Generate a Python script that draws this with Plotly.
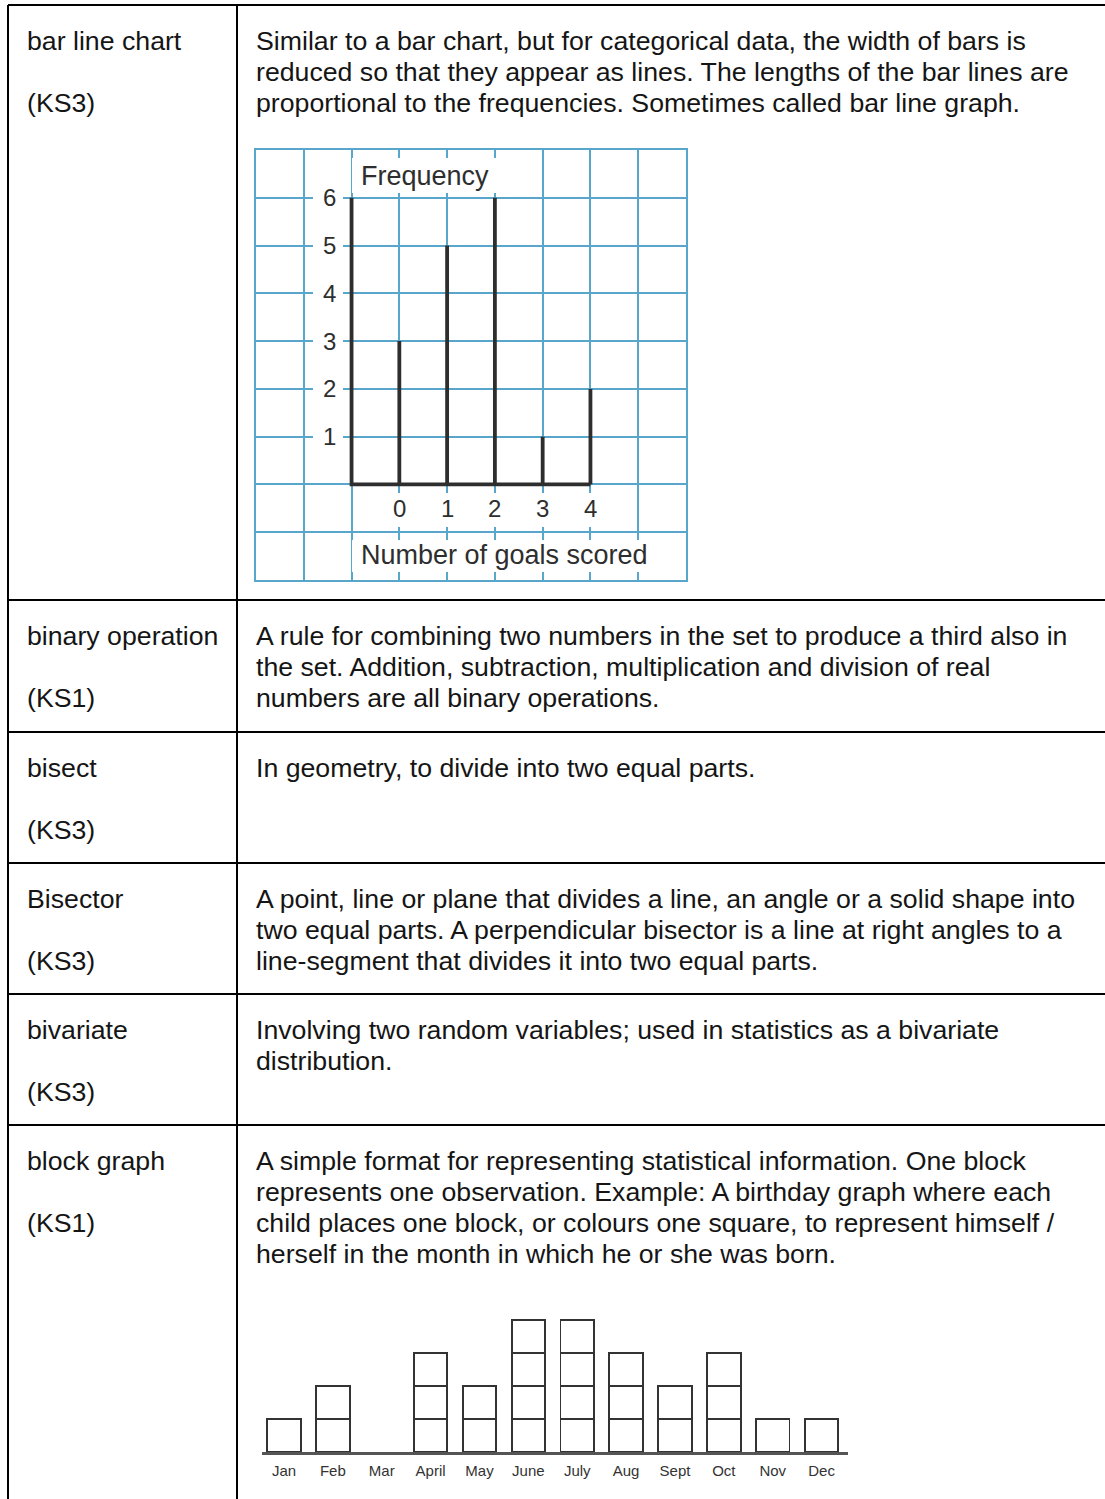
import plotly.graph_objects as go

W, H = 1105, 1499
FONT = "Liberation Sans, Arial, sans-serif"
TEXT_COLOR = "#151515"
GRID_BLUE = "#59a6cc"
INK = "#2e2e2e"

# table content
terms = ["bar line chart", "binary operation", "bisect", "Bisector", "bivariate", "block graph"]
stages = ["(KS3)", "(KS1)", "(KS3)", "(KS3)", "(KS3)", "(KS1)"]
definitions = [
    ["Similar to a bar chart, but for categorical data, the width of bars is",
     "reduced so that they appear as lines. The lengths of the bar lines are",
     "proportional to the frequencies. Sometimes called bar line graph."],
    ["A rule for combining two numbers in the set to produce a third also in",
     "the set. Addition, subtraction, multiplication and division of real",
     "numbers are all binary operations."],
    ["In geometry, to divide into two equal parts."],
    ["A point, line or plane that divides a line, an angle or a solid shape into",
     "two equal parts. A perpendicular bisector is a line at right angles to a",
     "line-segment that divides it into two equal parts."],
    ["Involving two random variables; used in statistics as a bivariate",
     "distribution."],
    ["A simple format for representing statistical information. One block",
     "represents one observation. Example: A birthday graph where each",
     "child places one block, or colours one square, to represent himself /",
     "herself in the month in which he or she was born."],
]
row_tops = [5, 600, 732, 863, 994, 1125]

# bar line chart data
goals = [0, 1, 2, 3, 4]
frequency = [3, 5, 6, 1, 2]
freq_ticks = [1, 2, 3, 4, 5, 6]

# block graph data
months = ["Jan", "Feb", "Mar", "April", "May", "June", "July", "Aug", "Sept", "Oct", "Nov", "Dec"]
birthdays = [1, 2, 0, 3, 2, 4, 4, 3, 2, 3, 1, 1]


def px(x):
    return x / W


def py(y):
    return 1 - y / H


fig = go.Figure()

# --- bar line chart ---
sx, sy = [], []
for g, f in zip(goals, frequency):
    sx += [g, g, None]
    sy += [0, f, None]
fig.add_trace(go.Scatter(x=sx, y=sy, mode="lines", line=dict(color=INK, width=3.8),
                         xaxis="x", yaxis="y", hoverinfo="skip"))
axis_x = goals[0] - 1
fig.add_trace(go.Scatter(x=[axis_x, axis_x, goals[-1]], y=[max(freq_ticks), 0, 0], mode="lines",
                         line=dict(color=INK, width=3.8), xaxis="x", yaxis="y", hoverinfo="skip"))

# white masks behind labels (hide grid)
cell = 430 / 9


def dx(p):
    return (p - 256) / cell - 3


def dy(p):
    return 7 - (p - 150) / cell


masks = [(dx(352), dx(541), dy(193), dy(158)),
         (dx(352), dx(685), dy(572), dy(540))]
for g in goals:
    masks.append((g - 0.2, g + 0.2, dy(527), dy(493)))
for t in freq_ticks:
    masks.append((dx(313), dx(343), t - 0.3, t + 0.3))
for x0, x1, y0, y1 in masks:
    fig.add_shape(type="rect", xref="x", yref="y", x0=x0, x1=x1, y0=y0, y1=y1,
                  fillcolor="white", line=dict(width=0), layer="between")

for t in freq_ticks:
    fig.add_annotation(x=dx(329), y=t, xref="x", yref="y", text=str(t), showarrow=False,
                       font=dict(family=FONT, size=24, color=INK))
for g in goals:
    fig.add_annotation(x=g, y=dy(508), xref="x", yref="y", text=str(g), showarrow=False,
                       font=dict(family=FONT, size=24, color=INK))
fig.add_annotation(x=dx(359), y=dy(176), xref="x", yref="y", text="Frequency", showarrow=False,
                   xanchor="left", font=dict(family=FONT, size=27, color=INK))
fig.add_annotation(x=dx(359), y=dy(555), xref="x", yref="y", text="Number of goals scored",
                   showarrow=False, xanchor="left", font=dict(family=FONT, size=27, color=INK))

# --- block graph ---
levels = max(birthdays)
for k in range(1, levels + 1):
    fig.add_trace(go.Bar(x=months, y=[1 if c >= k else None for c in birthdays], width=0.685,
                         marker=dict(color="white", line=dict(color="#333333", width=1.9)),
                         xaxis="x2", yaxis="y2", hoverinfo="skip"))

# --- table ---
table_lines = [(8, 5, W, 5), (8, 5, 8, H), (237, 5, 237, H)]
for top in row_tops[1:]:
    table_lines.append((8, top, W, top))
for x0, y0, x1, y1 in table_lines:
    fig.add_shape(type="line", xref="paper", yref="paper", x0=px(x0), x1=px(x1),
                  y0=py(y0), y1=py(y1), line=dict(color="black", width=2))

line_gap = 30.9
for top, term, stage, lines in zip(row_tops, terms, stages, definitions):
    first = top + 36
    fig.add_annotation(x=px(25), y=py(first), xref="paper", yref="paper", text=term,
                       showarrow=False, xanchor="left", yanchor="middle",
                       font=dict(family=FONT, size=26.7, color=TEXT_COLOR))
    fig.add_annotation(x=px(25), y=py(first + 2 * line_gap), xref="paper", yref="paper", text=stage,
                       showarrow=False, xanchor="left", yanchor="middle",
                       font=dict(family=FONT, size=26.7, color=TEXT_COLOR))
    for i, ln in enumerate(lines):
        fig.add_annotation(x=px(254), y=py(first + i * line_gap), xref="paper", yref="paper", text=ln,
                           showarrow=False, xanchor="left", yanchor="middle",
                           font=dict(family=FONT, size=26.7, color=TEXT_COLOR))

grid_axis = dict(tickmode="linear", tick0=0, dtick=1, showgrid=True, gridcolor=GRID_BLUE,
                 gridwidth=2, showticklabels=False, ticks="", zeroline=False, showline=True,
                 mirror=True, linecolor=GRID_BLUE, linewidth=2, fixedrange=True)

fig.update_layout(
    width=W, height=H,
    margin=dict(l=0, r=0, t=0, b=0),
    paper_bgcolor="white", plot_bgcolor="white",
    showlegend=False, barmode="stack",
    font=dict(family=FONT, color=TEXT_COLOR),
    xaxis=dict(grid_axis, domain=[px(256), px(686)], range=[-3, 6], anchor="y"),
    yaxis=dict(grid_axis, domain=[py(580), py(150)], range=[-2, 7], anchor="x"),
    xaxis2=dict(domain=[px(262), px(848)], range=[-0.45, 11.54], anchor="y2", type="category",
                showgrid=False, zeroline=False, ticks="", showline=True, linecolor="#555555",
                linewidth=3, tickfont=dict(family=FONT, size=15, color="#333333"),
                ticklabelstandoff=3, fixedrange=True),
    yaxis2=dict(domain=[py(1452), py(1452 - 4.3 * 33)], range=[0, 4.3], anchor="x2",
                showgrid=False, zeroline=False, showticklabels=False, showline=False,
                fixedrange=True),
)

# page body has a default 8px margin; drop it so the figure sits at the window origin
fig.write_html("out.html", config={"displayModeBar": False},
               post_script="document.body.style.margin='0';")
